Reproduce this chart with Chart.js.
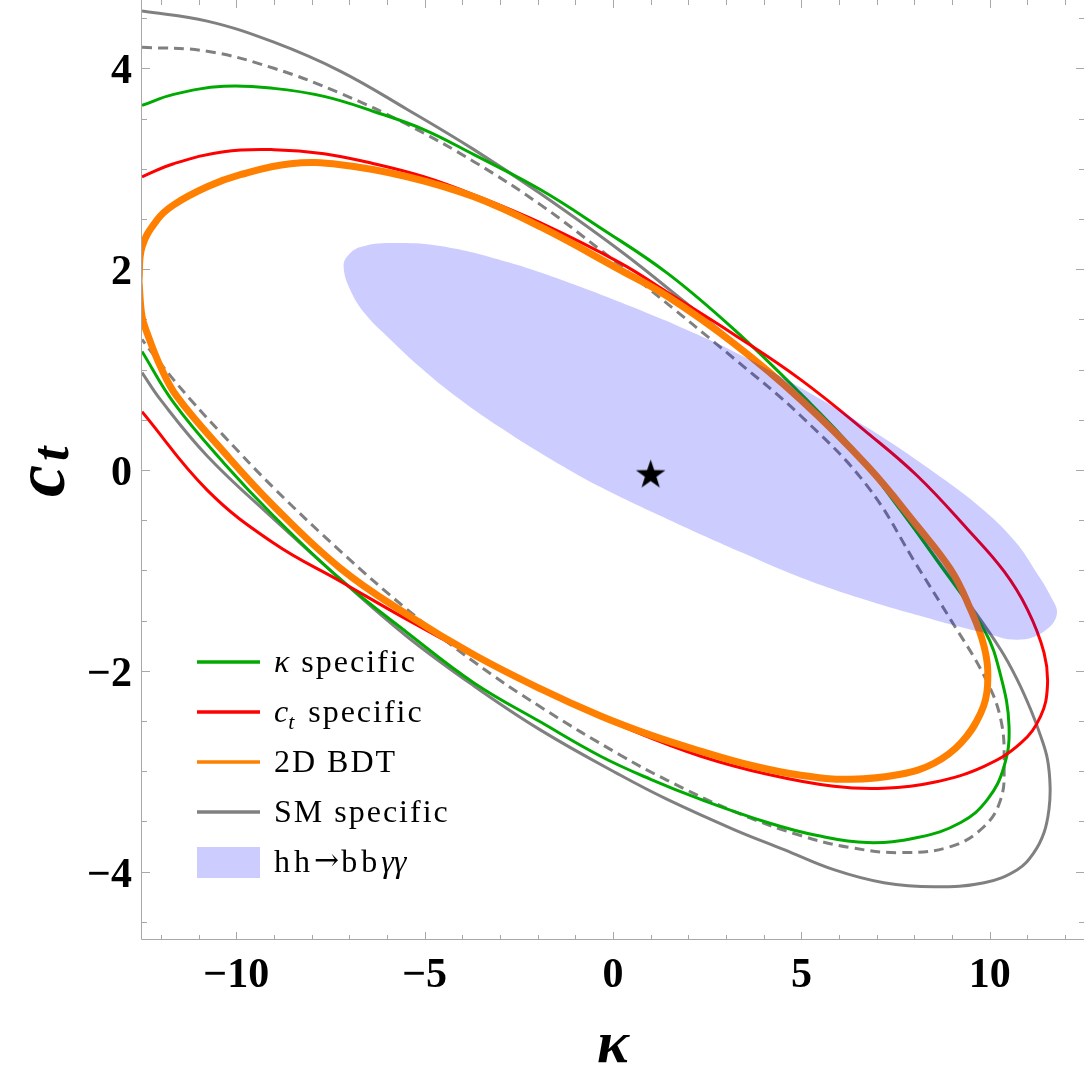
<!DOCTYPE html>
<html>
<head>
<meta charset="utf-8">
<script src="https://cdn.jsdelivr.net/npm/chart.js@4.4.1/dist/chart.umd.min.js"></script>
<style>
  html, body { margin: 0; padding: 0; background: #fff; }
  #wrap { width: 1084px; height: 1075px; position: relative; }
</style>
</head>
<body>
<div id="wrap"><canvas id="contourChart"></canvas></div>
<script>
// axis ranges and tick labels
const kappaRange = [-12.5, 12.5];
const ctRange = [-4.68, 4.68];
const xTickValues = [-10, -5, 0, 5, 10];
const xTickLabels = ['\u221210', '\u22125', '0', '5', '10'];
const yTickValues = [-4, -2, 0, 2, 4];
const yTickLabels = ['\u22124', '\u22122', '0', '2', '4'];

// kappa specific (green)
const kappaSpecK = [-12.50, -11.66, -10.33, -9.00, -7.67, -6.35, -5.02, -3.69, -1.92, -0.33, 1.44, 3.21, 4.98, 6.40, 7.63, 8.52, 9.85, 10.29, 10.51, 10.38, 9.94, 9.23, 8.08, 6.75, 5.42, 4.10, 2.33, 1.00, -0.33, -1.92, -3.69, -5.46, -7.23, -9.00, -10.33, -11.66, -12.50];
const kappaSpecC = [3.63, 3.74, 3.82, 3.80, 3.72, 3.57, 3.39, 3.14, 2.79, 2.41, 1.96, 1.40, 0.76, 0.20, -0.40, -0.86, -1.59, -2.05, -2.55, -2.95, -3.28, -3.51, -3.66, -3.71, -3.64, -3.51, -3.28, -3.08, -2.85, -2.51, -2.12, -1.62, -1.09, -0.46, 0.07, 0.67, 1.18];

// c_t specific (red)
const ctSpecK = [-12.50, -11.66, -10.33, -9.00, -7.67, -6.35, -5.02, -3.69, -1.92, 0.20, 1.44, 3.21, 4.98, 6.75, 8.08, 9.41, 10.38, 11.00, 11.44, 11.53, 11.35, 10.82, 9.85, 8.52, 7.19, 5.86, 4.10, 2.33, 0.55, -1.92, -3.69, -5.46, -7.23, -9.00, -10.77, -12.50];
const ctSpecC = [2.92, 3.05, 3.17, 3.19, 3.15, 3.05, 2.92, 2.74, 2.46, 2.06, 1.77, 1.35, 0.90, 0.37, -0.06, -0.59, -1.01, -1.39, -1.82, -2.15, -2.45, -2.72, -2.95, -3.11, -3.17, -3.15, -3.03, -2.85, -2.60, -2.19, -1.85, -1.49, -1.11, -0.73, -0.20, 0.58];

// 2D BDT (orange)
const bdtK = [-12.58, -12.50, -12.10, -11.66, -10.77, -9.89, -8.56, -7.23, -5.46, -3.69, -1.92, 0.20, 1.44, 3.21, 4.98, 6.75, 8.08, 8.96, 9.41, 9.85, 9.94, 9.76, 9.23, 8.52, 7.63, 6.31, 4.98, 3.65, 2.33, 1.00, -0.33, -1.92, -3.69, -5.46, -7.23, -9.00, -10.33, -11.57, -12.01, -12.36, -12.50, -12.58];
const bdtC = [1.88, 2.22, 2.49, 2.64, 2.82, 2.94, 3.05, 3.04, 2.92, 2.72, 2.42, 1.99, 1.73, 1.26, 0.70, 0.04, -0.56, -0.99, -1.32, -1.76, -2.15, -2.42, -2.72, -2.92, -3.03, -3.08, -3.04, -2.94, -2.80, -2.64, -2.45, -2.18, -1.84, -1.44, -0.98, -0.36, 0.18, 0.73, 1.03, 1.36, 1.53, 1.88];

// SM specific (gray, solid)
const smSpecK = [-12.50, -10.77, -9.00, -7.23, -5.46, -3.69, -1.92, 0.20, 1.88, 3.21, 4.98, 6.75, 8.52, 9.41, 10.29, 10.73, 11.09, 11.35, 11.53, 11.60, 11.57, 11.44, 11.17, 10.73, 9.85, 8.52, 7.19, 5.86, 4.54, 3.21, 1.44, 0.20, -1.92, -3.69, -5.46, -7.23, -9.00, -10.77, -12.01, -12.50];
const smSpecC = [4.57, 4.47, 4.26, 3.97, 3.59, 3.19, 2.75, 2.18, 1.68, 1.27, 0.68, 0.03, -0.85, -1.31, -1.79, -2.09, -2.39, -2.65, -2.88, -3.15, -3.38, -3.61, -3.81, -3.98, -4.11, -4.15, -4.11, -3.98, -3.78, -3.58, -3.28, -3.04, -2.59, -2.15, -1.66, -1.09, -0.49, 0.14, 0.70, 0.97];

// gray dashed contour
const dashedK = [-12.50, -10.77, -9.00, -7.23, -5.46, -3.69, -1.92, -0.33, 1.00, 3.21, 4.98, 6.75, 8.08, 8.96, 9.85, 10.29, 10.38, 10.29, 9.85, 8.96, 7.63, 6.31, 4.98, 3.21, 1.44, 0.20, -1.92, -3.69, -5.46, -7.23, -9.00, -10.33, -11.21, -12.01, -12.50];
const dashedC = [4.21, 4.17, 4.00, 3.75, 3.44, 3.07, 2.64, 2.19, 1.79, 1.11, 0.54, -0.16, -0.96, -1.49, -2.05, -2.48, -2.95, -3.28, -3.55, -3.75, -3.81, -3.76, -3.64, -3.40, -3.09, -2.84, -2.36, -1.91, -1.39, -0.81, -0.18, 0.34, 0.70, 1.06, 1.30];

// hh -> bb gamma gamma region (filled)
const bbaaK = [1.45, 3.20, 4.98, 6.76, 8.51, 9.84, 10.69, 11.22, 11.62, 11.78, 11.43, 10.74, 9.84, 8.51, 6.76, 4.98, 3.47, 1.45, -0.33, -1.66, -2.98, -4.23, -5.11, -5.91, -6.57, -6.97, -7.15, -7.02, -6.70, -5.91, -4.58, -2.80, -1.05, 0.20, 1.45];
const bbaaC = [1.48, 1.18, 0.82, 0.42, -0.02, -0.40, -0.72, -1.01, -1.26, -1.44, -1.61, -1.69, -1.62, -1.49, -1.30, -1.07, -0.83, -0.49, -0.17, 0.11, 0.42, 0.75, 1.02, 1.30, 1.55, 1.79, 2.03, 2.14, 2.22, 2.26, 2.23, 2.07, 1.85, 1.67, 1.48];

// best-fit / SM point
const starK = [1.0];
const starC = [-0.05];

const legendLabels = ['\u03ba specific', 'c_t specific', '2D BDT', 'SM specific', 'hh\u2192bb\u03b3\u03b3'];

const colGreen = '#00aa00';
const colRed = '#ff0000';
const colOrange = '#ff8000';
const colGray = '#808080';
const colFill = 'rgba(0, 0, 255, 0.2)';
const serif = '"Liberation Serif", "Times New Roman", serif';

const toPoints = (ks, cs) => ks.map((k, i) => ({ x: k, y: cs[i] }));

// filled five-point star used as point style
function makeStar(r) {
    const c = document.createElement('canvas');
    c.width = c.height = Math.ceil(2 * r + 2);
    const g = c.getContext('2d');
    g.translate(c.width / 2, c.width / 2);
    g.beginPath();
    for (let i = 0; i < 10; i++) {
        const rad = i % 2 === 0 ? r : r * 0.39;
        const a = -Math.PI / 2 + i * Math.PI / 5;
        g.lineTo(rad * Math.cos(a), rad * Math.sin(a));
    }
    g.closePath();
    g.fillStyle = '#000';
    g.fill();
    return c;
}

const curve = (label, pts, color, width, dash) => ({
    label: label,
    data: pts,
    showLine: true,
    borderColor: color,
    borderWidth: width,
    borderDash: dash || [],
    pointRadius: 0,
    tension: 0.4,
    fill: false,
    clip: 0
});

// frame, ticks, labels, titles and legend (Mathematica style)
const frameDecor = {
    id: 'frameDecor',
    beforeDatasetsDraw(chart) {
        const { ctx, chartArea: a, scales: { x, y } } = chart;
        ctx.save();
        ctx.strokeStyle = '#a8a8a8';
        ctx.lineWidth = 1;
        ctx.beginPath();
        for (let v = -12; v <= 12; v++) {
            const px = Math.round(x.getPixelForValue(v)) + 0.5;
            const len = v % 5 === 0 ? 8 : 5;
            ctx.moveTo(px, a.bottom); ctx.lineTo(px, a.bottom - len);
            ctx.moveTo(px, a.top); ctx.lineTo(px, a.top + len);
        }
        for (let v = -4.5; v <= 4.5; v += 0.5) {
            const py = Math.round(y.getPixelForValue(v)) + 0.5;
            const len = v % 2 === 0 ? 8 : 5;
            ctx.moveTo(a.left, py); ctx.lineTo(a.left + len, py);
            ctx.moveTo(a.right, py); ctx.lineTo(a.right - len, py);
        }
        ctx.stroke();
        ctx.beginPath();
        ctx.moveTo(a.left - 0.5, a.top);
        ctx.lineTo(a.left - 0.5, a.bottom - 0.5);
        ctx.lineTo(a.right, a.bottom - 0.5);
        ctx.stroke();
        ctx.restore();
    },
    afterDraw(chart) {
        const { ctx, chartArea: a, scales: { x, y } } = chart;
        ctx.save();
        ctx.fillStyle = '#000';

        // tick labels
        ctx.font = 'bold 42px ' + serif;
        ctx.textBaseline = 'alphabetic';
        ctx.textAlign = 'center';
        xTickValues.forEach((v, i) => {
            ctx.fillText(xTickLabels[i], x.getPixelForValue(v), a.bottom + 47);
        });
        ctx.textAlign = 'right';
        yTickValues.forEach((v, i) => {
            ctx.fillText(yTickLabels[i], a.left - 10, y.getPixelForValue(v) + 15);
        });

        // axis titles
        ctx.textAlign = 'center';
        ctx.font = 'bold italic 60px ' + serif;
        ctx.fillText('\u03ba', x.getPixelForValue(0), 1062);

        ctx.save();
        ctx.translate(64, 497);
        ctx.rotate(-Math.PI / 2);
        ctx.textAlign = 'left';
        ctx.font = 'bold italic 72px ' + serif;
        ctx.fillText('c', 0, 0);
        const cw = ctx.measureText('c').width;
        ctx.font = 'bold italic 52px ' + serif;
        ctx.fillText('t', cw + 4, 4);
        ctx.restore();

        // legend
        const lx0 = 197, lx1 = 260, tx = 274;
        const rows = [
            { color: colGreen, y: 662 },
            { color: colRed, y: 712 },
            { color: colOrange, y: 762 },
            { color: colGray, y: 812 },
            { fill: colFill, y: 862 }
        ];
        ctx.textAlign = 'left';
        rows.forEach((r, i) => {
            if (r.fill) {
                ctx.fillStyle = r.fill;
                ctx.fillRect(lx0, r.y - 15, lx1 - lx0, 31);
            } else {
                ctx.strokeStyle = r.color;
                ctx.lineWidth = 3.5;
                ctx.beginPath();
                ctx.moveTo(lx0, r.y);
                ctx.lineTo(lx1, r.y);
                ctx.stroke();
            }
            ctx.fillStyle = '#000';
            const base = r.y + 10;
            const label = legendLabels[i];
            ctx.letterSpacing = '2px';
            if (i === 0) {
                ctx.font = 'italic 32px ' + serif;
                ctx.fillText(label[0], tx, base);
                const w = ctx.measureText(label[0]).width;
                ctx.font = '32px ' + serif;
                ctx.fillText(label.slice(1), tx + w, base);
            } else if (i === 1) {
                ctx.font = 'italic 32px ' + serif;
                ctx.fillText('c', tx, base);
                const w = ctx.measureText('c').width;
                ctx.font = 'italic 22px ' + serif;
                ctx.fillText('t', tx + w - 2, base + 7);
                ctx.font = '32px ' + serif;
                ctx.fillText(label.slice(3), tx + w + 8, base);
            } else if (i === 4) {
                ctx.letterSpacing = '4px';
                ctx.font = '32px ' + serif;
                const hh = label.slice(0, 2);
                ctx.fillText(hh, tx, base);
                let px = tx + ctx.measureText(hh).width;
                ctx.font = '30px "DejaVu Serif", serif';
                ctx.letterSpacing = '2px';
                ctx.fillText(label[2], px, base - 2);
                px += ctx.measureText(label[2]).width;
                ctx.letterSpacing = '4px';
                ctx.font = '32px ' + serif;
                const bb = label.slice(3, 5);
                ctx.fillText(bb, px, base);
                px += ctx.measureText(bb).width;
                ctx.font = 'italic 32px ' + serif;
                ctx.letterSpacing = '0px';
                ctx.fillText(label.slice(5), px, base);
            } else {
                ctx.font = '32px ' + serif;
                ctx.fillText(label, tx, base);
            }
            ctx.letterSpacing = '0px';
        });
        ctx.restore();
    }
};

const ctx = document.getElementById('contourChart').getContext('2d');
new Chart(ctx, {
    type: 'scatter',
    data: {
        datasets: [
            {
                label: 'SM point',
                data: toPoints(starK, starC),
                pointStyle: makeStar(15.5),
                pointRadius: 15,
                showLine: false,
                clip: 0
            },
            {
                label: legendLabels[4],
                data: toPoints(bbaaK, bbaaC),
                showLine: true,
                borderColor: 'transparent',
                borderWidth: 0,
                backgroundColor: colFill,
                fill: 'shape',
                pointRadius: 0,
                tension: 0.4,
                clip: 0
            },
            curve(legendLabels[2], toPoints(bdtK, bdtC), colOrange, 7),
            curve(legendLabels[1], toPoints(ctSpecK, ctSpecC), colRed, 3),
            curve(legendLabels[0], toPoints(kappaSpecK, kappaSpecC), colGreen, 3),
            curve(legendLabels[3], toPoints(smSpecK, smSpecC), colGray, 3),
            curve('SM specific (dashed)', toPoints(dashedK, dashedC), colGray, 3, [10, 6])
        ]
    },
    options: {
        responsive: true,
        maintainAspectRatio: false,
        animation: false,
        events: [],
        layout: { autoPadding: false, padding: { left: 142, right: 0, top: 0, bottom: 135 } },
        elements: { line: { capBezierPoints: false } },
        scales: {
            x: { type: 'linear', min: kappaRange[0], max: kappaRange[1], display: false },
            y: { type: 'linear', min: ctRange[0], max: ctRange[1], display: false }
        },
        plugins: {
            legend: { display: false },
            tooltip: { enabled: false }
        }
    },
    plugins: [frameDecor]
});
</script>
</body>
</html>
